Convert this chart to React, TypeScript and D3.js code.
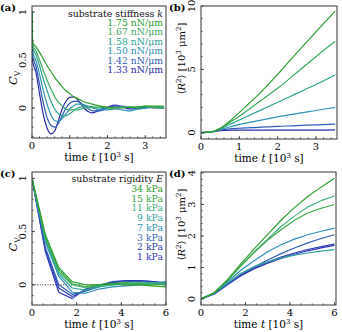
import React from "react";
import * as d3 from "d3";

// panel (a) / (b): substrate stiffness series
const stiffLabels = ["1.75 nN/μm", "1.67 nN/μm", "1.58 nN/μm", "1.50 nN/μm", "1.42 nN/μm", "1.33 nN/μm"];
const stiffColors = ["#2c9f2c", "#3aab5e", "#2aa38e", "#2c93b2", "#2f5cb8", "#2a2aab"];

const tA = [0, 0.02, 0.1, 0.2, 0.3, 0.4, 0.5, 0.6, 0.7, 0.8, 0.9, 1.0, 1.1, 1.2, 1.3, 1.4, 1.5, 1.6, 1.8, 2.0, 2.2, 2.4, 2.6, 2.8, 3.0, 3.2, 3.4, 3.5];
const cvA = [
  [1, 0.68, 0.64, 0.58, 0.51, 0.44, 0.38, 0.32, 0.27, 0.22, 0.18, 0.15, 0.12, 0.1, 0.08, 0.06, 0.05, 0.04, 0.02, 0.01, 0.0, 0.0, 0.01, 0.01, 0.02, 0.02, 0.02, 0.02],
  [1, 0.65, 0.6, 0.5, 0.39, 0.29, 0.2, 0.12, 0.06, 0.02, -0.01, -0.02, -0.02, -0.02, -0.01, 0.0, 0.0, 0.01, 0.01, 0.0, 0.0, 0.01, 0.01, 0.01, 0.02, 0.01, 0.0, 0.0],
  [1, 0.62, 0.56, 0.44, 0.3, 0.18, 0.07, -0.01, -0.06, -0.08, -0.08, -0.06, -0.03, 0.0, 0.01, 0.02, 0.02, 0.01, 0.0, 0.0, 0.0, 0.01, 0.01, 0.0, 0.0, 0.01, 0.01, 0.01],
  [1, 0.58, 0.5, 0.35, 0.18, 0.04, -0.07, -0.13, -0.14, -0.11, -0.06, -0.01, 0.02, 0.04, 0.04, 0.03, 0.01, 0.0, -0.02, -0.02, -0.01, -0.02, -0.03, -0.01, 0.0, 0.01, 0.0, 0.0],
  [1, 0.53, 0.44, 0.25, 0.05, -0.1, -0.18, -0.2, -0.16, -0.08, 0.0, 0.05, 0.07, 0.07, 0.05, 0.02, -0.01, -0.03, -0.03, 0.0, 0.02, 0.02, 0.0, -0.01, 0.0, 0.01, 0.01, 0.0],
  [1, 0.48, 0.38, 0.15, -0.07, -0.21, -0.27, -0.24, -0.13, -0.01, 0.07, 0.11, 0.115, 0.09, 0.04, -0.01, -0.04, -0.05, -0.02, 0.01, 0.03, 0.01, -0.01, 0.0, 0.01, 0.0, 0.0, -0.005],
];

const tB = [0, 0.25, 0.5, 0.75, 1.0, 1.5, 2.0, 2.5, 3.0, 3.5];
const r2B = [
  [0, 0.05, 0.35, 0.9, 1.6, 3.0, 4.6, 6.3, 7.95, 9.6],
  [0, 0.05, 0.33, 0.8, 1.3, 2.4, 3.5, 4.75, 6.0, 7.2],
  [0, 0.05, 0.3, 0.65, 1.0, 1.7, 2.4, 3.1, 3.8, 4.55],
  [0, 0.05, 0.25, 0.45, 0.65, 0.95, 1.25, 1.5, 1.75, 2.0],
  [0, 0.05, 0.2, 0.3, 0.35, 0.42, 0.5, 0.55, 0.62, 0.68],
  [0, 0.05, 0.15, 0.2, 0.2, 0.2, 0.2, 0.2, 0.2, 0.22],
];

// panel (c) / (d): substrate rigidity series
const rigidLabels = ["34 kPa", "15 kPa", "11 kPa", "9 kPa", "7 kPa", "3 kPa", "2 kPa", "1 kPa"];
const rigidColors = ["#2c9f2c", "#3aab48", "#3db27c", "#2fa59f", "#2c8fb6", "#305fb6", "#2a40b0", "#3434c2"];

const tC = [0, 0.6, 1.2, 1.8, 2.4, 3.0, 3.6, 4.2, 4.8, 5.4, 6.0];
const cvC = [
  [1, 0.47, 0.16, 0.03, 0.0, 0.0, 0.01, 0.0, 0.0, -0.01, -0.02],
  [1, 0.45, 0.14, 0.01, -0.02, 0.0, 0.01, 0.02, 0.01, 0.0, 0.01],
  [1, 0.44, 0.12, 0.0, -0.03, -0.01, 0.0, 0.01, 0.02, 0.01, 0.0],
  [1, 0.42, 0.1, -0.03, -0.05, -0.02, 0.0, 0.01, 0.01, 0.02, 0.02],
  [1, 0.4, 0.08, -0.07, -0.08, -0.04, -0.02, -0.01, 0.0, 0.01, 0.03],
  [1, 0.35, 0.0, -0.09, -0.06, -0.02, 0.02, 0.03, 0.03, 0.02, 0.0],
  [1, 0.33, -0.03, -0.11, -0.05, -0.01, 0.03, 0.04, 0.04, 0.03, 0.02],
  [1, 0.31, -0.07, -0.13, -0.04, 0.0, 0.02, 0.04, 0.04, 0.03, 0.01],
];
const r2D = [
  [0, 0.2, 0.62, 1.12, 1.6, 2.05, 2.5, 2.9, 3.25, 3.55, 3.83],
  [0, 0.2, 0.6, 1.05, 1.48, 1.87, 2.2, 2.5, 2.73, 2.88, 3.0],
  [0, 0.2, 0.6, 1.06, 1.5, 1.9, 2.3, 2.63, 2.92, 3.12, 3.27],
  [0, 0.19, 0.52, 0.82, 1.03, 1.18, 1.3, 1.39, 1.46, 1.52, 1.57],
  [0, 0.19, 0.55, 0.92, 1.22, 1.5, 1.72, 1.9, 2.04, 2.15, 2.25],
  [0, 0.17, 0.48, 0.78, 1.02, 1.24, 1.44, 1.62, 1.78, 1.92, 2.04],
  [0, 0.17, 0.47, 0.76, 0.98, 1.17, 1.33, 1.46, 1.57, 1.66, 1.74],
  [0, 0.16, 0.46, 0.74, 0.96, 1.14, 1.29, 1.42, 1.53, 1.62, 1.7],
];

const xTicksAB = [0, 1, 2, 3];
const xTicksCD = [0, 2, 4, 6];
const yTicksCv = [0, 0.5, 1];
const yTicksB = [0, 5, 10];
const yTicksD = [0, 1, 2, 3, 4];

const FONT = "'DejaVu Serif', 'Liberation Serif', serif";
const FRAME = "#333";
const FS = 10;

type Box = { x0: number; x1: number; y0: number; y1: number };

function Panel({ id, box, xDom, yDom, xTicks, xMinor, yTicks, yMinor, t, series, colors, curve, tag, yLabel, zeroLine }: any) {
  const x = d3.scaleLinear().domain(xDom).range([box.x0, box.x1]);
  const y = d3.scaleLinear().domain(yDom).range([box.y1, box.y0]);
  const line = d3.line<number>().x((_, i) => x(t[i])).y((d) => y(d)).curve(curve);
  const order = series.map((_: any, i: number) => i).reverse();
  return (
    <g>
      <defs>
        <clipPath id={`clip-${id}`}>
          <rect x={box.x0} y={box.y0} width={box.x1 - box.x0} height={box.y1 - box.y0} />
        </clipPath>
      </defs>
      {zeroLine && (
        <line x1={box.x0} x2={box.x1} y1={y(0)} y2={y(0)} stroke="#000" strokeWidth={0.9} strokeDasharray="1 1.6" />
      )}
      <g clipPath={`url(#clip-${id})`}>
        {order.map((i: number) => (
          <path key={i} d={line(series[i]) || ""} fill="none" stroke={colors[i]} strokeWidth={1.2} strokeLinejoin="round" />
        ))}
      </g>
      {/* ticks, pointing inward */}
      {xMinor.map((v: number) => (
        <line key={`xm${v}`} x1={x(v)} x2={x(v)} y1={box.y1} y2={box.y1 - 1.6} stroke={FRAME} strokeWidth={0.8} />
      ))}
      {xTicks.map((v: number) => (
        <line key={`xt${v}`} x1={x(v)} x2={x(v)} y1={box.y1} y2={box.y1 - 3} stroke={FRAME} strokeWidth={0.8} />
      ))}
      {yMinor.map((v: number) => (
        <line key={`ym${v}`} x1={box.x0} x2={box.x0 + 1.6} y1={y(v)} y2={y(v)} stroke={FRAME} strokeWidth={0.8} />
      ))}
      {yTicks.map((v: number) => (
        <line key={`yt${v}`} x1={box.x0} x2={box.x0 + 3} y1={y(v)} y2={y(v)} stroke={FRAME} strokeWidth={0.8} />
      ))}
      <rect x={box.x0} y={box.y0} width={box.x1 - box.x0} height={box.y1 - box.y0} fill="none" stroke={FRAME} strokeWidth={1} />
      {/* tick labels */}
      {xTicks.map((v: number) => (
        <text key={`xl${v}`} x={x(v)} y={box.y1 + 11} textAnchor="middle" fontSize={FS}>
          {d3.format("~g")(v)}
        </text>
      ))}
      {yTicks.map((v: number) => (
        <text key={`yl${v}`} transform={`translate(${box.x0 - 6},${y(v)}) rotate(-90)`} textAnchor="middle" fontSize={FS}>
          {d3.format("~g")(v)}
        </text>
      ))}
      <text x={(box.x0 + box.x1) / 2} y={box.y1 + 23} textAnchor="middle" fontSize={10.5}>
        time <tspan fontStyle="italic">t</tspan> [10<tspan fontSize={7} dy={-3.8}>3</tspan>
        <tspan dy={3.8}> s]</tspan>
      </text>
      <text x={box.x0 - 32} y={box.y0 + 5} fontSize={10} fontWeight="bold">
        {tag}
      </text>
      {yLabel}
    </g>
  );
}

function Legend({ x, y, title, labels, colors, step }: any) {
  return (
    <g fontSize={9.3} textAnchor="end">
      <text x={x} y={y} fill="#111">
        {title}
      </text>
      {labels.map((l: string, i: number) => (
        <text key={l} x={x} y={y + step * (i + 1)} fill={colors[i]}>
          {l}
        </text>
      ))}
    </g>
  );
}

const boxA: Box = { x0: 32, x1: 166, y0: 6, y1: 138 };
const boxB: Box = { x0: 201, x1: 337, y0: 6, y1: 139 };
const boxC: Box = { x0: 32, x1: 166, y0: 172, y1: 305 };
const boxD: Box = { x0: 201, x1: 336, y0: 172, y1: 305 };

const cvLabel = (box: Box) => (
  <text transform={`translate(${box.x0 - 15},${(box.y0 + box.y1) / 2 + 6}) rotate(-90)`} textAnchor="middle" fontSize={11.5}>
    <tspan fontStyle="italic">C</tspan>
    <tspan fontSize={7.5} dy={2.5}>V</tspan>
  </text>
);
const r2Label = (box: Box) => (
  <text transform={`translate(${box.x0 - 16},${(box.y0 + box.y1) / 2 - 14}) rotate(-90)`} textAnchor="middle" fontSize={10}>
    ⟨<tspan fontStyle="italic">R</tspan>
    <tspan fontSize={7} dy={-3.8}>2</tspan>
    <tspan dy={3.8}>⟩ [10</tspan>
    <tspan fontSize={7} dy={-3.8}>3</tspan>
    <tspan dy={3.8}> μm</tspan>
    <tspan fontSize={7} dy={-3.8}>2</tspan>
    <tspan dy={3.8}>]</tspan>
  </text>
);

export default function App() {
  return (
    <svg width={342} height={332} style={{ position: "absolute", left: 0, top: 0, background: "#fff" }} fontFamily={FONT}>
      <Panel
        id="a" box={boxA} xDom={[0, 3.55]} yDom={[-0.3125, 1.0625]}
        xTicks={xTicksAB} xMinor={d3.range(0.2, 3.5, 0.2)} yTicks={yTicksCv} yMinor={d3.range(-0.3, 1.01, 0.1)}
        t={tA} series={cvA} colors={stiffColors} curve={d3.curveMonotoneX} tag="(a)" yLabel={cvLabel(boxA)}
      />
      <Legend x={163} y={16.5} title={<>substrate stiffness <tspan fontStyle="italic">k</tspan></>} labels={stiffLabels} colors={stiffColors} step={9.4} />
      <Panel
        id="b" box={boxB} xDom={[0, 3.55]} yDom={[-0.5, 10]}
        xTicks={xTicksAB} xMinor={d3.range(0.2, 3.5, 0.2)} yTicks={yTicksB} yMinor={d3.range(1, 10, 1)}
        t={tB} series={r2B} colors={stiffColors} curve={d3.curveMonotoneX} tag="(b)" yLabel={r2Label(boxB)}
      />
      <Panel
        id="c" box={boxC} xDom={[0, 6]} yDom={[-0.19, 1.06]}
        xTicks={xTicksCD} xMinor={d3.range(0.5, 6, 0.5)} yTicks={yTicksCv} yMinor={d3.range(-0.1, 1.01, 0.1)}
        t={tC} series={cvC} colors={rigidColors} curve={d3.curveLinear} tag="(c)" yLabel={cvLabel(boxC)} zeroLine
      />
      <Legend x={163} y={182} title={<>substrate rigidity <tspan fontStyle="italic">E</tspan></>} labels={rigidLabels} colors={rigidColors} step={9.75} />
      <Panel
        id="d" box={boxD} xDom={[0, 6.07]} yDom={[-0.19, 4.03]}
        xTicks={xTicksCD} xMinor={d3.range(0.5, 6, 0.5)} yTicks={yTicksD} yMinor={d3.range(0.2, 4, 0.2)}
        t={tC} series={r2D} colors={rigidColors} curve={d3.curveLinear} tag="(d)" yLabel={r2Label(boxD)}
      />
    </svg>
  );
}
